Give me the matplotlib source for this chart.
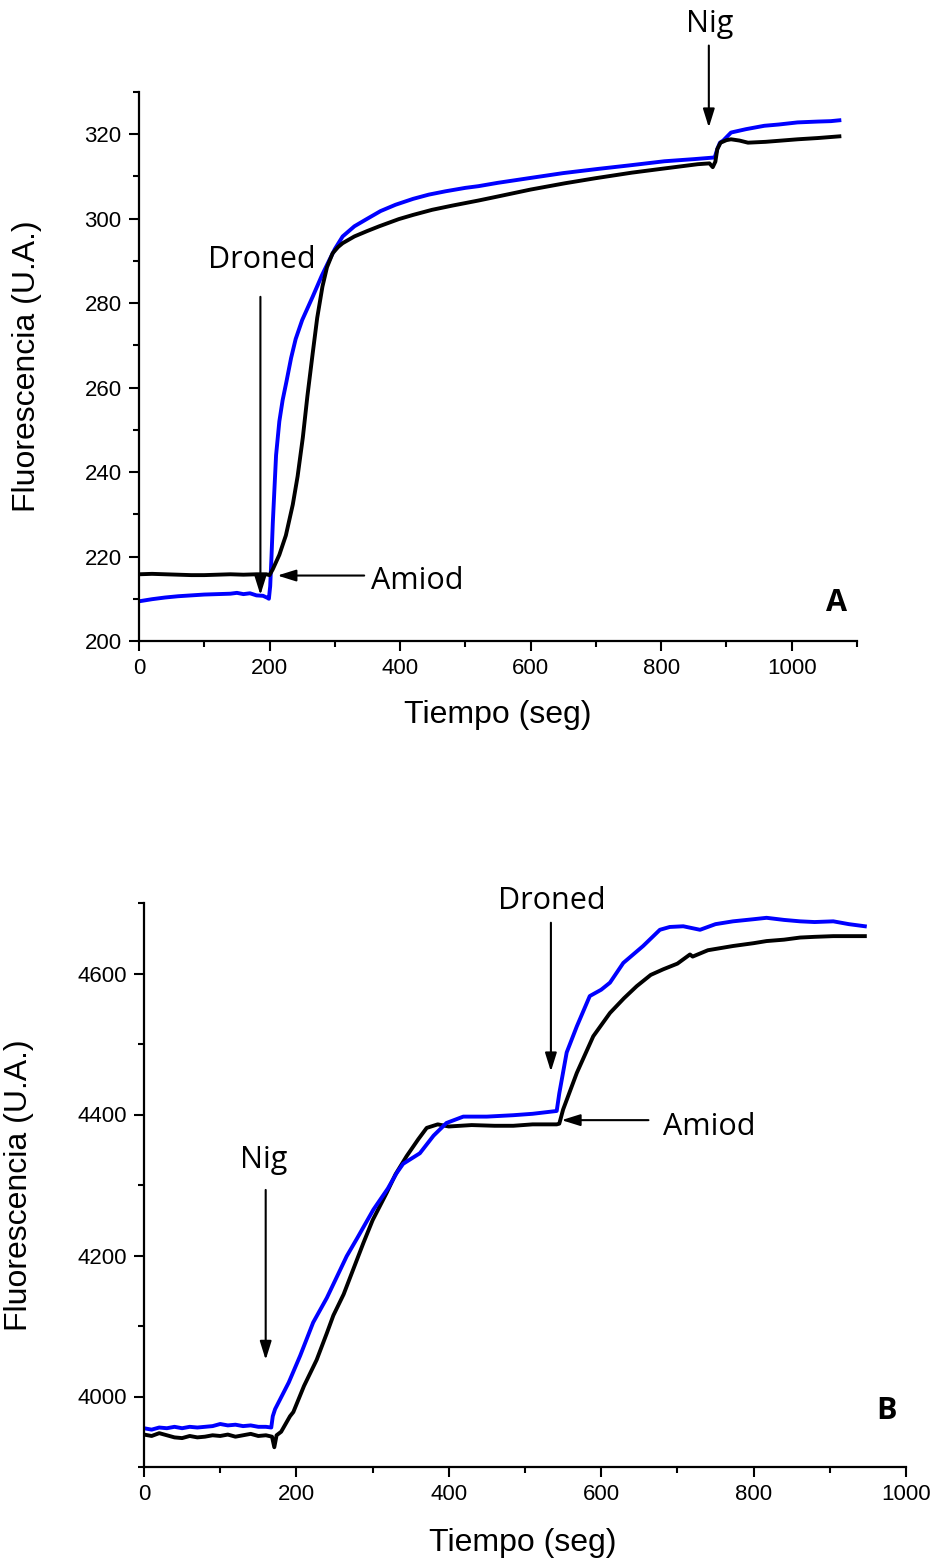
import matplotlib
matplotlib.use("Agg")
import matplotlib.pyplot as plt
from matplotlib.ticker import MultipleLocator

# ---------------- Data: panel A ----------------
a_blue_t = [0, 20, 40, 60, 80, 100, 120, 140, 150, 160, 170, 180, 190, 197, 199, 201, 203, 205, 210, 215,
            220, 226, 233, 240, 250, 266, 280, 291.6, 300, 312, 330, 347.6, 370, 393, 420, 444, 470, 500,
            520, 550, 602, 650, 704, 750, 805, 850, 874, 882, 886, 890, 895, 907, 930, 958, 980, 1009, 1040,
            1060, 1073]
a_blue_v = [209.4, 209.9, 210.3, 210.6, 210.8, 211.0, 211.1, 211.2, 211.4, 211.1, 211.3, 210.8, 210.7, 210.2,
            210.0, 213, 220, 228, 244, 252, 257, 261.5, 267, 271.5, 276, 281.5, 286.5, 290.2, 292.8, 295.8,
            298.2, 299.8, 301.8, 303.3, 304.7, 305.7, 306.5, 307.3, 307.7, 308.5, 309.7, 310.8, 311.8, 312.6,
            313.6, 314.1, 314.4, 314.5, 316.5, 318.0, 318.5, 320.4, 321.2, 322.0, 322.3, 322.8, 323.0, 323.1,
            323.3]

a_black_t = [0, 20, 40, 60, 80, 100, 120, 140, 160, 180, 195, 200, 205, 215, 225, 235.6, 243, 251, 258, 266,
             273, 281, 288, 296.6, 305, 312, 330, 350, 368, 398, 420, 449, 480, 520, 551, 600, 653, 700, 755,
             800, 856, 874, 879, 883, 886, 891, 900, 907, 920, 933, 960, 1009, 1040, 1073]
a_black_v = [215.8, 215.9, 215.8, 215.7, 215.6, 215.6, 215.7, 215.8, 215.7, 215.8, 215.8, 215.6, 217, 220.4,
             225, 232.3, 239, 248.2, 258, 268, 276.5, 283.9, 288.5, 291.8, 293.3, 294.2, 295.8, 297.1, 298.2,
             299.9, 300.9, 302.1, 303.1, 304.3, 305.3, 306.9, 308.4, 309.6, 310.9, 311.8, 312.9, 313.1,
             312.2, 313.5, 316.5, 318.0, 318.6, 318.8, 318.5, 318.0, 318.2, 318.8, 319.1, 319.5]

# ---------------- Data: panel B ----------------
b_blue_t = [0, 10, 20, 30, 40, 50, 60, 70, 80, 90, 100, 110, 120, 130, 140, 150, 160, 167, 169, 172, 190,
            205, 222, 240, 266, 280, 301, 320, 331.6, 340, 362, 380, 397, 419, 450, 484.7, 510, 541.6, 545,
            554.7, 568, 585, 600, 611.5, 629, 655, 677, 690, 707.7, 729.7, 750, 773, 800, 817, 840, 861, 880,
            904.6, 925, 946]
b_blue_v = [3955, 3953, 3956, 3955, 3957, 3955, 3957, 3956, 3957, 3958, 3961, 3959, 3960, 3958, 3959, 3957,
            3957, 3956, 3972, 3982, 4020, 4058, 4105, 4140, 4199, 4225, 4265, 4295, 4317, 4330, 4345, 4370,
            4388, 4397, 4397, 4399, 4401, 4405, 4430, 4488, 4525, 4568, 4577, 4587, 4615, 4639, 4662, 4666,
            4667, 4662, 4670, 4674, 4677, 4679, 4676, 4674, 4673, 4674, 4670, 4667]

b_black_t = [0, 10, 20, 30, 40, 50, 60, 70, 80, 90, 100, 110, 120, 130, 140, 150, 160, 168, 171, 174, 180,
             191.6, 196, 210, 226.6, 240, 248.5, 262, 288, 300, 318.5, 330, 344.7, 360, 371, 385.5, 400, 430,
             460, 484.7, 510, 541.6, 545, 550, 568, 589.6, 611.5, 630, 646.6, 665, 681.5, 700, 716.5, 720,
             740, 773, 800, 817, 840, 861, 880, 904.6, 925, 946]
b_black_v = [3946, 3944, 3948, 3945, 3942, 3941, 3944, 3942, 3943, 3945, 3944, 3946, 3943, 3945, 3947, 3944,
             3945, 3943, 3928, 3945, 3950, 3972, 3978, 4015, 4052, 4090, 4115, 4145, 4218, 4250, 4289, 4315,
             4341, 4365, 4381, 4386, 4383, 4385, 4384, 4384, 4386, 4386, 4387, 4407, 4459, 4511, 4544, 4565,
             4582, 4598, 4606, 4614, 4627, 4624, 4633, 4639, 4643, 4646, 4648, 4651, 4652, 4653, 4653, 4653]

x_label = "Tiempo (seg)"
y_label = "Fluorescencia (U.A.)"

# ---------------- Figure ----------------
plt.rcParams['font.family'] = ['Liberation Sans', 'DejaVu Sans']
fig = plt.figure(figsize=(9.34, 15.6), dpi=100)
fig.patch.set_facecolor('white')

W, H = 934, 1560
axA = fig.add_axes([139 / W, 1 - 641 / H, 718 / W, (641 - 92) / H])
axB = fig.add_axes([144 / W, 1 - 1467 / H, 762 / W, (1467 - 903) / H])

BLUE = '#0000ff'
ann_font = dict(family=['Open Sans', 'DejaVu Sans'], size=22)
arrow_style = '-|>,head_length=0.8,head_width=0.25'
LW = 2.8


def style_axes(ax):
    for s in ('top', 'right'):
        ax.spines[s].set_visible(False)
    for s in ('left', 'bottom'):
        ax.spines[s].set_linewidth(1.6)
    ax.tick_params(which='major', direction='out', length=7.5, width=1.5, labelsize=16, pad=5)
    ax.tick_params(which='minor', direction='out', length=4, width=1.5)
    ax.set_xlabel(x_label, fontsize=23)
    ax.set_ylabel(y_label, fontsize=23)


def arrow(ax, tail, tip):
    ax.annotate('', xy=tip, xytext=tail, xycoords='data', textcoords='data',
                arrowprops=dict(arrowstyle=arrow_style, mutation_scale=14, lw=1.5, color='black',
                                shrinkA=0, shrinkB=0), annotation_clip=False)


# ---- Panel A ----
axA.plot(a_blue_t, a_blue_v, color=BLUE, lw=LW, solid_joinstyle='round')
axA.plot(a_black_t, a_black_v, color='black', lw=LW, solid_joinstyle='round')
axA.set_xlim(0, 1100)
axA.set_ylim(200, 330)
axA.xaxis.set_major_locator(MultipleLocator(200))
axA.xaxis.set_minor_locator(MultipleLocator(100))
axA.yaxis.set_major_locator(MultipleLocator(20))
axA.yaxis.set_minor_locator(MultipleLocator(10))
style_axes(axA)
axA.xaxis.set_label_coords(0.5, -0.108)
axA.yaxis.set_label_coords(-0.135, 0.5)

axA.text(874, 344.2, 'Nig', ha='center', va='baseline', clip_on=False, **ann_font)
arrow(axA, (873, 341), (873, 321.6))
axA.text(188, 288.4, 'Droned', ha='center', va='baseline', **ann_font)
arrow(axA, (186, 281.5), (186, 210.9))
axA.text(355, 212.3, 'Amiod', ha='left', va='baseline', **ann_font)
arrow(axA, (345, 215.5), (212, 215.5))
axA.text(1069, 207.1, 'A', ha='center', va='baseline', fontweight='bold',
         family=['Open Sans', 'DejaVu Sans'], size=22)

# ---- Panel B ----
axB.plot(b_black_t, b_black_v, color='black', lw=LW, solid_joinstyle='round')
axB.plot(b_blue_t, b_blue_v, color=BLUE, lw=LW, solid_joinstyle='round')
axB.set_xlim(0, 1000)
axB.set_ylim(3900, 4700)
axB.xaxis.set_major_locator(MultipleLocator(200))
axB.xaxis.set_minor_locator(MultipleLocator(100))
axB.yaxis.set_major_locator(MultipleLocator(200))
axB.yaxis.set_minor_locator(MultipleLocator(100))
style_axes(axB)
axB.xaxis.set_label_coords(0.497, -0.108)
axB.yaxis.set_label_coords(-0.145, 0.5)

axB.text(157.5, 4324, 'Nig', ha='center', va='baseline', **ann_font)
arrow(axB, (159.7, 4293), (159.7, 4052))
axB.text(535, 4691, 'Droned', ha='center', va='baseline', **ann_font)
arrow(axB, (534, 4672), (534, 4461))
axB.text(681.5, 4371.6, 'Amiod', ha='left', va='baseline', **ann_font)
arrow(axB, (662, 4392), (548, 4392))
axB.text(975, 3968, 'B', ha='center', va='baseline', fontweight='bold',
         family=['Open Sans', 'DejaVu Sans'], size=22)

fig.savefig('out.png', dpi=100, facecolor='white')
